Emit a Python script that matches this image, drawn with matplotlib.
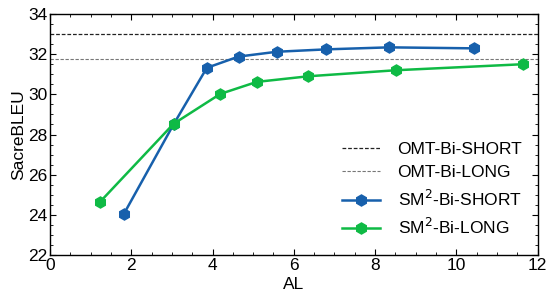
import numpy as np
import matplotlib.pyplot as plt
from matplotlib.ticker import MultipleLocator

plt.rcParams['font.family'] = ['Liberation Sans', 'DejaVu Sans']

short_al = [1.82, 3.04, 3.86, 4.64, 5.58, 6.80, 8.35, 10.44]
short_bleu = [24.05, 28.5, 31.32, 31.88, 32.12, 32.24, 32.34, 32.29]
long_al = [1.23, 3.04, 4.19, 5.09, 6.36, 8.51, 11.64]
long_bleu = [24.64, 28.53, 30.02, 30.62, 30.9, 31.2, 31.5]
omt_short = 33.0
omt_long = 31.77

blue = '#1760ac'
green = '#0fba45'

fig = plt.figure(figsize=(5.48, 2.95), dpi=100)
ax = fig.add_axes([0.0912, 0.1356, 0.8898, 0.8169])

ax.axhline(omt_short, color='#222222', linewidth=0.9, linestyle=(0, (3, 1.5)), label='OMT-Bi-SHORT')
ax.axhline(omt_long, color='#777777', linewidth=0.8, linestyle=(0, (3, 1.5)), label='OMT-Bi-LONG')
ax.plot(short_al, short_bleu, color=blue, linewidth=1.8, marker='h', markersize=8, label='SM$^2$-Bi-SHORT')
ax.plot(long_al, long_bleu, color=green, linewidth=1.8, marker='h', markersize=8, label='SM$^2$-Bi-LONG')

ax.set_xlim(0, 12)
ax.set_ylim(22, 34)
ax.xaxis.set_major_locator(MultipleLocator(2))
ax.xaxis.set_minor_locator(MultipleLocator(0.5))
ax.yaxis.set_major_locator(MultipleLocator(2))
ax.yaxis.set_minor_locator(MultipleLocator(0.5))
ax.tick_params(which='both', direction='in', top=True, right=True, labelsize=12.5, pad=2)
ax.tick_params(which='major', length=4)
ax.tick_params(which='minor', length=2)
for s in ax.spines.values():
    s.set_linewidth(1.0)
ax.set_xlabel('AL', fontsize=12.5, labelpad=3)
ax.set_ylabel('SacreBLEU', fontsize=12.5, labelpad=1)

ax.legend(loc='lower right', frameon=False, fontsize=12.5, handlelength=2.2,
          handletextpad=1.0, labelspacing=0.48, borderaxespad=0.2,
          bbox_to_anchor=(0.99, 0.03))

fig.savefig('out.png', dpi=100)
